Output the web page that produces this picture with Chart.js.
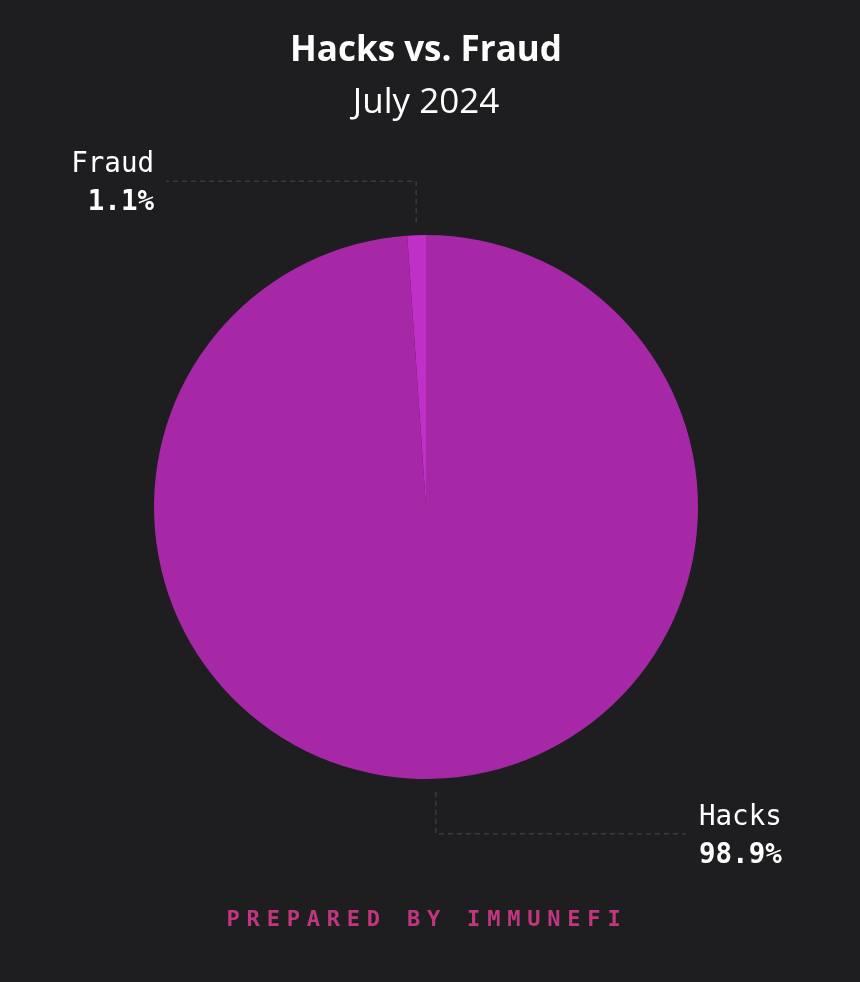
<!DOCTYPE html>
<html>
<head>
<meta charset="utf-8">
<script src="https://cdn.jsdelivr.net/npm/chart.js@4"></script>
<style>
  html,body{margin:0;padding:0;background:#1e1e20;}
  #wrap{width:860px;height:982px;}
</style>
</head>
<body>
<div id="wrap"><canvas id="pie" width="860" height="982"></canvas></div>
<script>
const labels = ["Hacks","Fraud"];
const shares = [98.9, 1.1];
const colors = ["#a628a6","#c02fc8"];

// leader lines + slice labels, drawn off the arc geometry
const calloutPlugin = {
  id:"callouts",
  afterDatasetsDraw(chart){
    const ctx = chart.ctx;
    const arcs = chart.getDatasetMeta(0).data;
    ctx.save();
    arcs.forEach((arc,i)=>{
      const p = arc.getProps(["x","y","startAngle","endAngle","outerRadius"],true);
      const mid = (p.startAngle+p.endAngle)/2;
      const r0 = p.outerRadius+13;
      const x0 = p.x+Math.cos(mid)*r0, y0 = p.y+Math.sin(mid)*r0;
      const up = Math.sin(mid)<0;
      const y1 = up ? y0-41 : y0+42;
      const x1 = up ? 166 : 686;
      ctx.strokeStyle = "#4a4a4c";
      ctx.lineWidth = 1;
      ctx.setLineDash([5,4]);
      ctx.beginPath();
      ctx.moveTo(x0,y0); ctx.lineTo(x0,y1); ctx.lineTo(x1,y1);
      ctx.stroke();
      ctx.setLineDash([]);
      ctx.fillStyle = "#ffffff";
      ctx.textBaseline = "middle";
      ctx.textAlign = up ? "right" : "left";
      const tx = up ? 154 : 699;
      ctx.font = "27.5px 'DejaVu Sans Mono'";
      ctx.fillText(labels[i], tx, y1-16);
      ctx.font = "bold 27.5px 'DejaVu Sans Mono'";
      ctx.fillText(shares[i].toFixed(1)+"%", tx, y1+22);
    });
    ctx.restore();
  }
};

const footerPlugin = {
  id:"footer",
  afterDraw(chart){
    const ctx = chart.ctx;
    ctx.save();
    ctx.font = "bold 22px 'DejaVu Sans Mono'";
    ctx.letterSpacing = "6.8px";
    ctx.fillStyle = "#c0377f";
    ctx.textAlign = "center";
    ctx.textBaseline = "middle";
    ctx.fillText("PREPARED BY IMMUNEFI", 427, 920);
    ctx.restore();
  }
};

new Chart(document.getElementById("pie"),{
  type:"pie",
  data:{labels:labels,datasets:[{data:shares,backgroundColor:colors,borderWidth:0}]},
  options:{
    responsive:false,
    animation:false,
    layout:{padding:{top:0,bottom:188,left:154,right:162}},
    plugins:{
      legend:{display:false},
      tooltip:{enabled:false},
      title:{display:true,text:"Hacks vs. Fraud",color:"#ffffff",
        font:{family:"'Open Sans'",size:35,weight:"bold"},padding:{top:30,bottom:0}},
      subtitle:{display:true,text:"July 2024",color:"#ffffff",
        font:{family:"'Open Sans'",size:35,weight:"normal"},padding:{top:10,bottom:96}}
    }
  },
  plugins:[calloutPlugin,footerPlugin]
});
</script>
</body>
</html>
